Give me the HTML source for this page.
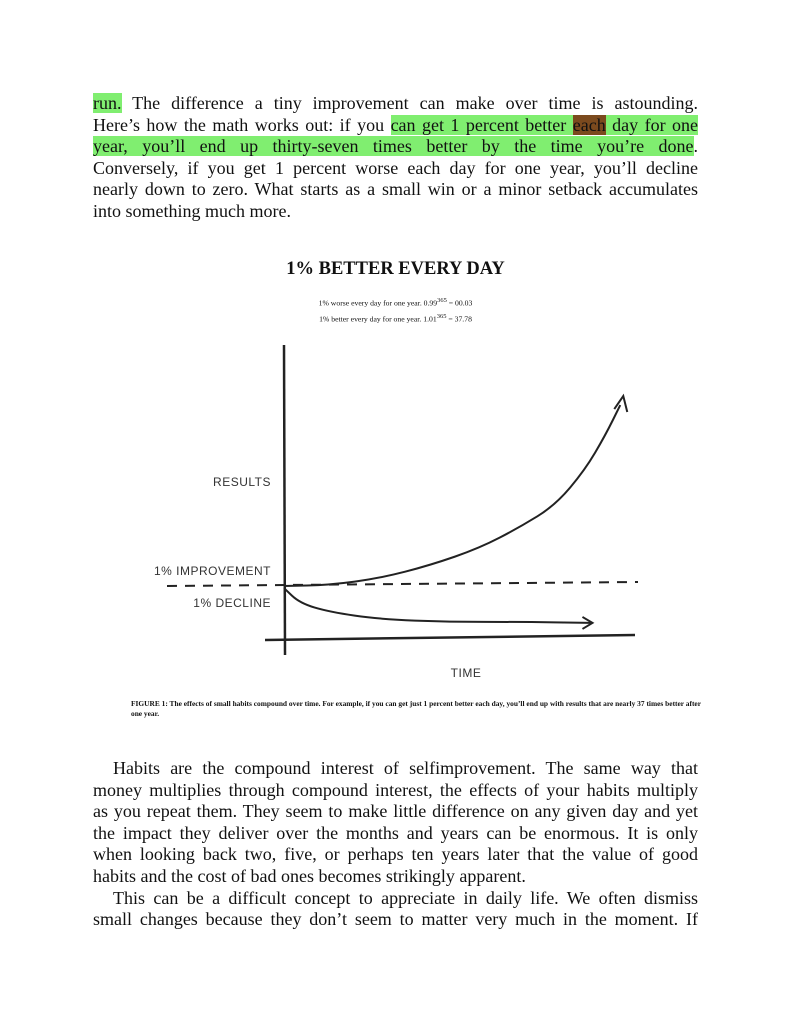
<!DOCTYPE html>
<html><head><meta charset="utf-8">
<style>
html,body{margin:0;padding:0;background:#fff;}
body{width:791px;height:1024px;position:relative;overflow:hidden;font-family:"Liberation Serif",serif;color:#111;}
.p{position:absolute;left:93px;width:605px;font-size:18px;line-height:21.6px;text-align:justify;}
.l{display:block;text-align:justify;text-align-last:justify;white-space:nowrap;height:21.6px;}
.last{text-align-last:left;}
.ind{padding-left:20px;}
.hl{background:#80ee70;}
.br{background:#7b4a1e;}
.title{position:absolute;left:0;width:791px;top:259px;text-align:center;font-weight:bold;font-size:18.5px;}
.eq{position:absolute;left:0;width:791px;text-align:center;font-size:7.7px;}
.eq sup{font-size:6.5px;}
.cap{position:absolute;left:131px;width:570px;top:699px;font-size:7.4px;font-weight:bold;line-height:10px;text-align:justify;}
svg{position:absolute;left:0;top:0;}
.lab{font-family:"Liberation Sans",sans-serif;font-size:12px;fill:#333;letter-spacing:0.5px;}
</style></head><body>
<div class="p" style="top:93px">
<span class="l"><span class="hl">run.</span> The difference a tiny improvement can make over time is astounding.</span>
<span class="l">Here’s how the math works out: if you <span class="hl">can get 1 percent better </span><span class="br">each</span><span class="hl"> day for one</span></span>
<span class="l"><span class="hl">year, you’ll end up thirty-seven times better by the time you’re done</span>.</span>
<span class="l">Conversely, if you get 1 percent worse each day for one year, you’ll decline</span>
<span class="l">nearly down to zero. What starts as a small win or a minor setback accumulates</span>
<span class="l last">into something much more.</span>
</div>
<div class="title">1% BETTER EVERY DAY</div>
<div class="eq" style="top:297px">1% worse every day for one year. 0.99<sup>365</sup> = 00.03</div>
<div class="eq" style="top:313px">1% better every day for one year. 1.01<sup>365</sup> = 37.78</div>
<svg width="791" height="1024">
<g id="chart"></g>
</svg>
<div class="cap">FIGURE 1: The effects of small habits compound over time. For example, if you can get just 1 percent better each day, you’ll end up with results that are nearly 37 times better after one year.</div>
<div class="p" style="top:758px">
<span class="l ind">Habits are the compound interest of selfimprovement. The same way that</span>
<span class="l">money multiplies through compound interest, the effects of your habits multiply</span>
<span class="l">as you repeat them. They seem to make little difference on any given day and yet</span>
<span class="l">the impact they deliver over the months and years can be enormous. It is only</span>
<span class="l">when looking back two, five, or perhaps ten years later that the value of good</span>
<span class="l last">habits and the cost of bad ones becomes strikingly apparent.</span>
<span class="l ind">This can be a difficult concept to appreciate in daily life. We often dismiss</span>
<span class="l">small changes because they don’t seem to matter very much in the moment. If</span>
</div>
<script>
const days=[0,49,103,157,210,253,291,323,345,361];
const improvement=[0,0.2,1.5,4,7.3,11.3,15.5,22.3,29,34.8];
const declineDays=[0,17,49,103,178,253,329];
const decline=[-0.4,-3.3,-5,-6.4,-6.9,-6.9,-7.1];
const xs=t=>284+t*340/365;
const ys=v=>586-v*5.2;
const g=document.getElementById('chart');
const NS='http://www.w3.org/2000/svg';
function mk(tag,attrs){const e=document.createElementNS(NS,tag);for(const k in attrs)e.setAttribute(k,attrs[k]);g.appendChild(e);return e;}
function path(ts,vs){let d='';for(let i=0;i<ts.length;i++){const x=xs(ts[i]),y=ys(vs[i]);if(i==0)d='M'+x+' '+y;else{const px=xs(ts[i-1]),py=ys(vs[i-1]);const mx=(px+x)/2,my=(py+y)/2;d+=' Q'+px+' '+py+' '+mx+' '+my;}}d+=' L'+xs(ts[ts.length-1])+' '+ys(vs[vs.length-1]);return d;}
let e;
e=mk('line',{x1:167,y1:586,x2:638,y2:582,stroke:'#222','stroke-width':2,'stroke-dasharray':'10 8'});


e=mk('line',{x1:284,y1:345,x2:285,y2:655,stroke:'#222','stroke-width':2.5});


e=mk('line',{x1:265,y1:640,x2:635,y2:635,stroke:'#222','stroke-width':2.5});


e=mk('path',{d:path(days,improvement),fill:'none',stroke:'#222','stroke-width':2});


const ix=xs(days[days.length-1]),iy=ys(improvement[improvement.length-1]);
e=mk('path',{d:`M${ix-6} ${iy+4} L${ix+3} ${iy-9} L${ix+7} ${iy+7}`,fill:'none',stroke:'#222','stroke-width':2});


e=mk('path',{d:path(declineDays,decline),fill:'none',stroke:'#222','stroke-width':2});


const dx=xs(declineDays[declineDays.length-1]),dy=ys(decline[decline.length-1]);
e=mk('path',{d:`M${dx-8} ${dy-6} L${dx+2} ${dy} L${dx-8} ${dy+6}`,fill:'none',stroke:'#222','stroke-width':2});


const labels=[['RESULTS',271,486,'end','results-label'],['1% IMPROVEMENT',271,575,'end','improvement-label'],['1% DECLINE',271,607,'end','decline-label'],['TIME',466,677,'middle','time-label']];
labels.forEach(l=>{const t=mk('text',{x:l[1],y:l[2],'text-anchor':l[3],class:'lab'});t.textContent=l[0];

});
</script>
</body></html>
